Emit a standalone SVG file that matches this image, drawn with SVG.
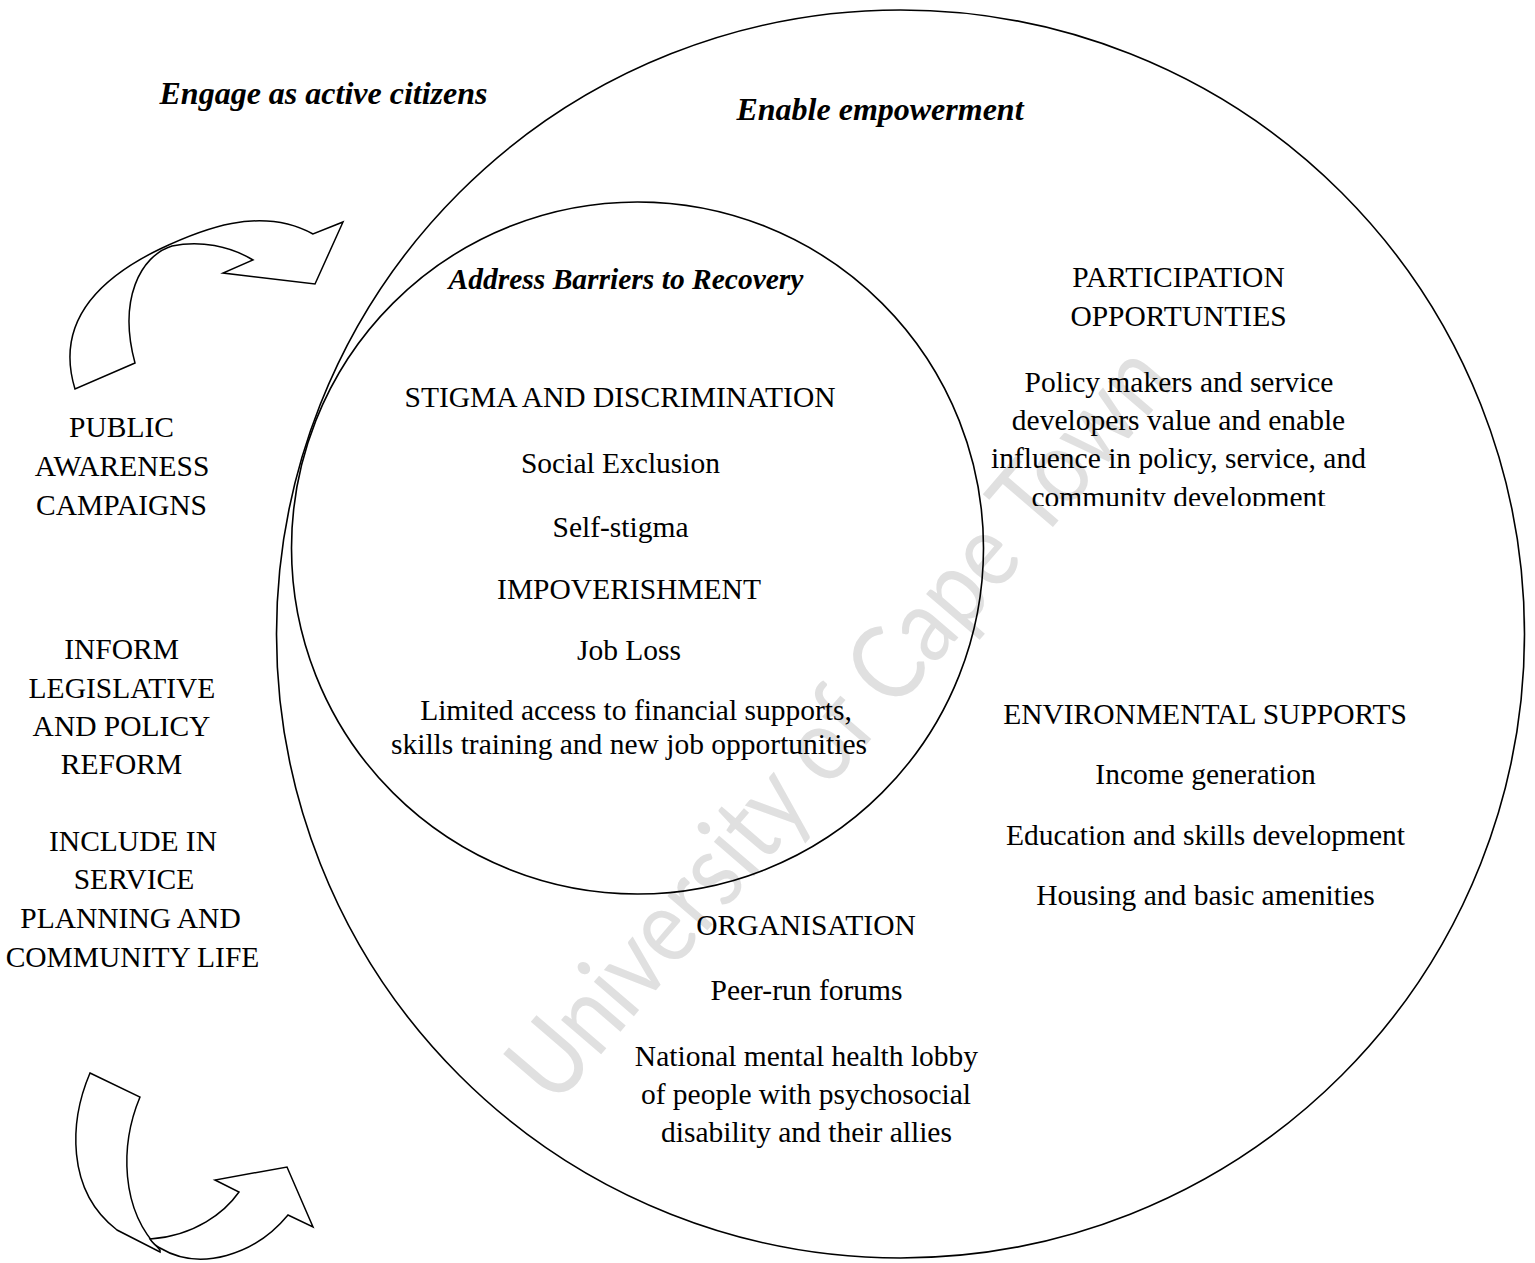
<svg xmlns="http://www.w3.org/2000/svg" width="1535" height="1263" viewBox="0 0 1535 1263">
<style>
.t{font-family:"Liberation Serif","Times New Roman",serif;font-size:29.5px;fill:#000;text-anchor:middle}
.h{font-family:"Liberation Serif","Times New Roman",serif;font-weight:bold;font-style:italic;fill:#000;text-anchor:middle}
.ln{fill:none;stroke:#000;stroke-width:1.6}
.ar{fill:#fff;stroke:#000;stroke-width:1.5;stroke-linejoin:miter}
.wm{font-family:Lato,"Open Sans","Liberation Sans",sans-serif;font-weight:400;font-size:104px;fill:#e0e0e0}
</style>
<defs>
<clipPath id="clipPart"><rect x="900" y="250" width="560" height="256"/></clipPath>
</defs>
<rect width="1535" height="1263" fill="#fff"/>
<text class="wm" transform="translate(555,1108) rotate(-49.4)" textLength="955" lengthAdjust="spacingAndGlyphs">University of Cape Town</text>
<g id="outer-circle"><circle class="ln" cx="900.5" cy="634" r="624"/></g>
<g id="inner-circle"><circle class="ln" cx="637.5" cy="548" r="346"/></g>
<g id="connectors">
<path id="arrow-top" class="ar" d="M75,389 C60,340 75,290 160,249 C200,230 260,205 313,234 L343,222 L315,284 L223,273 L253,260 C230,246 200,240 172,246 C140,256 118,300 135,363 Z"/>
<path id="arrow-bottom-back" class="ar" d="M90,1073 L140,1097 C120,1145 120,1210 160,1250 L160,1252 L117,1230 C65,1190 70,1120 90,1073 Z"/>
<path id="arrow-bottom-front" class="ar" d="M150,1239 Q154,1245 160,1248 C200,1272 255,1255 288,1215 L313,1227 L287,1167 L215,1180 L239,1192 C225,1212 195,1236 150,1239 Z"/>
</g>
<g id="title-engage"><text class="h" x="323.5" y="104" font-size="32">Engage as active citizens</text></g>
<g id="title-enable"><text class="h" x="880" y="120" font-size="32">Enable empowerment</text></g>
<g id="left-public">
<text class="t" x="121.5" y="437">PUBLIC</text>
<text class="t" x="122" y="476">AWARENESS</text>
<text class="t" x="121.5" y="515">CAMPAIGNS</text>
</g>
<g id="left-inform">
<text class="t" x="121.5" y="659">INFORM</text>
<text class="t" x="122" y="698">LEGISLATIVE</text>
<text class="t" x="121.5" y="736">AND POLICY</text>
<text class="t" x="121.5" y="774">REFORM</text>
</g>
<g id="left-include">
<text class="t" x="133" y="851">INCLUDE IN</text>
<text class="t" x="134" y="889">SERVICE</text>
<text class="t" x="130.5" y="928">PLANNING AND</text>
<text class="t" x="132.5" y="967">COMMUNITY LIFE</text>
</g>
<g id="barriers">
<text class="h" x="626" y="289" font-size="29.5">Address Barriers to Recovery</text>
<text class="t" x="620" y="407">STIGMA AND DISCRIMINATION</text>
<text class="t" x="620.5" y="473">Social Exclusion</text>
<text class="t" x="620.5" y="537">Self-stigma</text>
<text class="t" x="629" y="599">IMPOVERISHMENT</text>
<text class="t" x="629" y="660">Job Loss</text>
<text class="t" x="636" y="720">Limited access to financial supports,</text>
<text class="t" x="629" y="754">skills training and new job opportunities</text>
</g>
<g id="participation">
<text class="t" x="1178.5" y="287">PARTICIPATION</text>
<text class="t" x="1178.5" y="326">OPPORTUNTIES</text>
<g clip-path="url(#clipPart)">
<text class="t" x="1179" y="392">Policy makers and service</text>
<text class="t" x="1178.5" y="430">developers value and enable</text>
<text class="t" x="1178.5" y="468">influence in policy, service, and</text>
<text class="t" x="1178.5" y="507">community development</text>
</g>
</g>
<g id="environmental">
<text class="t" x="1205" y="724">ENVIRONMENTAL SUPPORTS</text>
<text class="t" x="1205.5" y="784">Income generation</text>
<text class="t" x="1205.5" y="845">Education and skills development</text>
<text class="t" x="1205.5" y="905">Housing and basic amenities</text>
</g>
<g id="organisation">
<text class="t" x="806" y="935">ORGANISATION</text>
<text class="t" x="806.5" y="1000">Peer-run forums</text>
<text class="t" x="806.5" y="1066">National mental health lobby</text>
<text class="t" x="806" y="1104">of people with psychosocial</text>
<text class="t" x="806.5" y="1142">disability and their allies</text>
</g>
</svg>
